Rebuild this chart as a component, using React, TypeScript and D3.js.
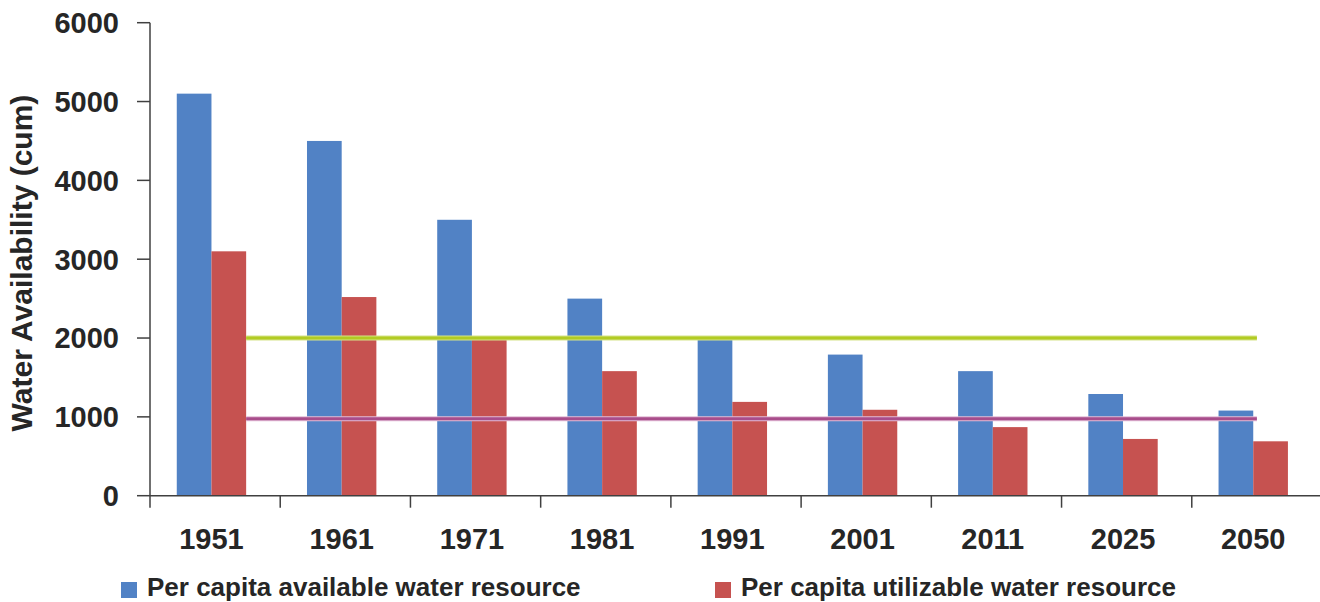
import React, { useEffect, useRef } from 'react'
import * as d3 from 'd3'

const years = ['1951', '1961', '1971', '1981', '1991', '2001', '2011', '2025', '2050']
const available = [5100, 4500, 3500, 2500, 2000, 1790, 1580, 1290, 1080]
const utilizable = [3100, 2520, 2000, 1580, 1190, 1090, 870, 720, 690]
const yTicks = [0, 1000, 2000, 3000, 4000, 5000, 6000]
const stressLine = 2000
const scarcityLine = 975
const seriesNames = ['Per capita available water resource', 'Per capita utilizable water resource']

const App = () => {
  const ref = useRef<SVGSVGElement | null>(null)

  useEffect(() => {
    if (!ref.current) return
    const svg = d3.select(ref.current)
    svg.selectAll('*').remove()

    const font = 'Liberation Sans, Arial, sans-serif'
    const textColor = '#262626'
    const blue = '#5182c5'
    const red = '#c65250'

    const x = d3.scaleBand().domain(years).range([150, 1322]).paddingInner(0).paddingOuter(0)
    const x1 = d3
      .scaleBand()
      .domain(['avail', 'util'])
      .range([0, x.bandwidth()])
      .paddingInner(0)
      .paddingOuter(0.877)
      .align(0.44)
    const y = d3.scaleLinear().domain([0, 6000]).range([495.7, 22.7])

    // bars
    const groups = svg
      .append('g')
      .selectAll('g')
      .data(years)
      .join('g')
      .attr('transform', (d) => `translate(${x(d)},0)`)

    groups
      .append('rect')
      .attr('x', x1('avail')!)
      .attr('width', x1.bandwidth())
      .attr('y', (_, i) => y(available[i]))
      .attr('height', (_, i) => y(0) - y(available[i]))
      .attr('fill', blue)

    groups
      .append('rect')
      .attr('x', x1('util')!)
      .attr('width', x1.bandwidth())
      .attr('y', (_, i) => y(utilizable[i]))
      .attr('height', (_, i) => y(0) - y(utilizable[i]))
      .attr('fill', red)

    // threshold lines (halo + core)
    const lx0 = x(years[0])! + x1('util')! + x1.bandwidth()
    const lx1 = x(years[years.length - 1])! + x.bandwidth() / 2
    const refLines = [
      { v: stressLine, halo: '#d5e38a', core: '#b2cb23' },
      { v: scarcityLine, halo: '#e2bcd6', core: '#a84d8b' },
    ]
    refLines.forEach((r) => {
      svg
        .append('line')
        .attr('x1', lx0)
        .attr('x2', lx1)
        .attr('y1', y(r.v))
        .attr('y2', y(r.v))
        .attr('stroke', r.halo)
        .attr('stroke-width', 5)
      svg
        .append('line')
        .attr('x1', lx0)
        .attr('x2', lx1)
        .attr('y1', y(r.v))
        .attr('y2', y(r.v))
        .attr('stroke', r.core)
        .attr('stroke-width', 3)
    })

    // y axis
    const yAxis = svg.append('g')
    yAxis
      .append('line')
      .attr('x1', 150)
      .attr('x2', 150)
      .attr('y1', y(6000))
      .attr('y2', y(0))
      .attr('stroke', '#404040')
      .attr('stroke-width', 1.5)
    yTicks.forEach((t) => {
      yAxis
        .append('line')
        .attr('x1', 137)
        .attr('x2', 150)
        .attr('y1', y(t))
        .attr('y2', y(t))
        .attr('stroke', '#404040')
        .attr('stroke-width', 1.5)
      yAxis
        .append('text')
        .attr('x', 119)
        .attr('y', y(t))
        .attr('dy', '0.36em')
        .attr('text-anchor', 'end')
        .attr('fill', textColor)
        .style('font-family', font)
        .style('font-weight', 'bold')
        .style('font-size', '29px')
        .text(t)
    })

    // x axis
    const xAxis = svg.append('g')
    xAxis
      .append('line')
      .attr('x1', 150)
      .attr('x2', 1320)
      .attr('y1', y(0))
      .attr('y2', y(0))
      .attr('stroke', '#404040')
      .attr('stroke-width', 1.5)
    years.forEach((yr) => {
      xAxis
        .append('line')
        .attr('x1', x(yr)!)
        .attr('x2', x(yr)!)
        .attr('y1', y(0))
        .attr('y2', y(0) + 12)
        .attr('stroke', '#404040')
        .attr('stroke-width', 1.5)
      xAxis
        .append('text')
        .attr('x', x(yr)! + x1('util')!)
        .attr('y', 549)
        .attr('text-anchor', 'middle')
        .attr('fill', textColor)
        .style('font-family', font)
        .style('font-weight', 'bold')
        .style('font-size', '29px')
        .text(yr)
    })

    // y title
    svg
      .append('text')
      .attr('transform', `translate(32,263) rotate(-90)`)
      .attr('text-anchor', 'middle')
      .attr('fill', textColor)
      .style('font-family', font)
      .style('font-weight', 'bold')
      .style('font-size', '30px')
      .text('Water Availability (cum)')

    // legend
    const legend = [
      { name: seriesNames[0], color: blue, x: 121 },
      { name: seriesNames[1], color: red, x: 715 },
    ]
    legend.forEach((l) => {
      svg
        .append('rect')
        .attr('x', l.x)
        .attr('y', 582)
        .attr('width', 16)
        .attr('height', 16)
        .attr('fill', l.color)
      svg
        .append('text')
        .attr('x', l.x + 26)
        .attr('y', 596)
        .attr('fill', textColor)
        .style('font-family', font)
        .style('font-weight', 'bold')
        .style('font-size', '26px')
        .text(l.name)
    })
  }, [])

  return (
    <div style={{ position: 'absolute', left: 0, top: 0, width: 1320, height: 602, background: '#fff' }}>
      <svg ref={ref} width={1320} height={602} style={{ display: 'block' }} />
    </div>
  )
}

export default App
